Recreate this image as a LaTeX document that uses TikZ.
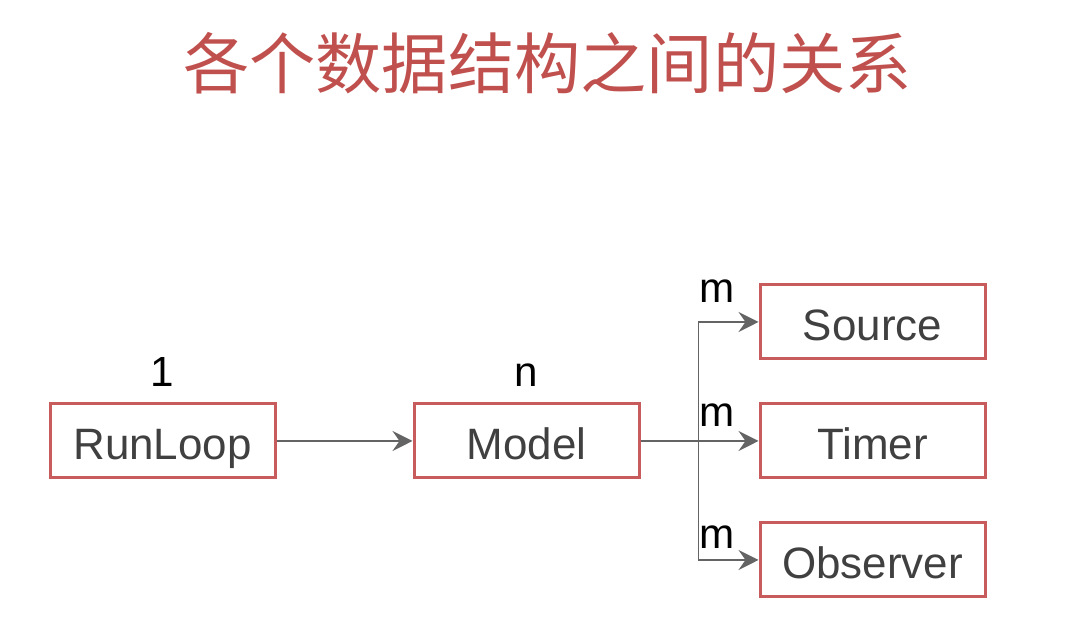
\documentclass[tikz,border=0pt]{standalone}
\usepackage{fontspec}
\setmainfont{Liberation Sans}
\newfontfamily\cjkfont{Noto Sans CJK SC}
\usepackage{xcolor}
\usepackage{tikz}
\usetikzlibrary{arrows.meta,positioning}
\definecolor{titlered}{RGB}{192,80,77}
\definecolor{boxred}{RGB}{200,92,92}
\definecolor{linegray}{RGB}{100,100,100}
\definecolor{textgray}{RGB}{64,64,64}

\begin{document}
\begin{tikzpicture}[
    node distance=2.72cm,
    entity/.style={rectangle, draw=boxred, line width=0.06cm, minimum width=4.5cm, minimum height=1.48cm, text height=0.76cm, text depth=0cm, text=textgray, font=\fontsize{25}{29}\selectfont},
    tag/.style={inner sep=0pt, text=black, font=\fontsize{24}{28}\selectfont},
    arrow/.style={draw=linegray, line width=0.03cm, -{Stealth[length=0.4cm, width=0.4cm, inset=0.14cm]}}
]

\useasboundingbox (0,0) rectangle (21.32,12.56);

\node[font=\cjkfont\fontsize{37.7}{44}\selectfont, text=titlered] (title) at (10.95,11.3) {各个数据结构之间的关系};

\node[entity] (runloop) at (3.25,3.74) {RunLoop};
\node[entity, right=of runloop] (model) {Model};
\node[entity, right=2.36cm of model] (timer) {Timer};
\node[entity, above=0.84cm of timer] (source) {Source};
\node[entity, below=0.84cm of timer] (observer) {Observer};

\node[tag, above=0.32cm of runloop] (one) {1};
\node[tag, above=0.32cm of model] (many) {n};
\node[tag, above left=0.38cm and 0.48cm of source.west] (msource) {m};
\node[tag, above left=0.28cm and 0.48cm of timer.west] (mtimer) {m};
\node[tag, above left=0.22cm and 0.48cm of observer.west] (mobserver) {m};

\coordinate[right=1.16cm of model.east] (fork);

\draw[arrow] (runloop) -- (model);
\draw[arrow] (model) -- (timer);
\draw[arrow] (fork) |- (source);
\draw[arrow] (fork) |- (observer);

\end{tikzpicture}
\end{document}
